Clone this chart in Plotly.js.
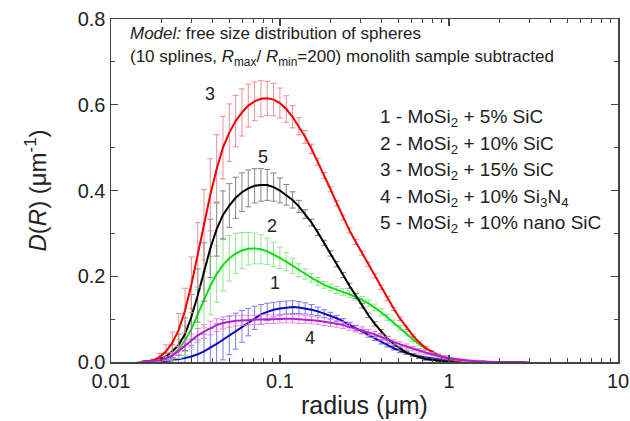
<!DOCTYPE html>
<html>
<head>
<meta charset="utf-8">
<script src="https://cdn.plot.ly/plotly-3.0.1.min.js"></script>
<style>html,body{margin:0;padding:0;background:#fff;}#chart{width:630px;height:421px;}</style>
</head>
<body>
<div id="chart"></div>
<script>
// radius grid (um)
const radius = [0.0150,0.01635,0.01782,0.01943,0.02117,0.02308,0.02516,0.02742,0.02989,0.03258,
  0.03551,0.03870,0.04219,0.04598,0.05012,0.05463,0.05955,0.06491,0.07075,0.07712,
  0.08406,0.09163,0.09987,0.1089,0.1187,0.1293,0.1410,0.1537,0.1675,0.1826,
  0.1990,0.2169,0.2364,0.2577,0.2809,0.3062,0.3337,0.3638,0.3965,0.4322,
  0.4711,0.5135,0.5597,0.6101,0.6650,0.7248,0.7901,0.8612,0.9387,1.023,
  1.115,1.216,1.325,1.444,1.574,1.716,1.870,2.038,2.222,2.422,2.640,2.877];

// 1 - MoSi2 + 5% SiC
const d1 = [0,0,0,0.001,0.002,0.004,0.006,0.009,0.013,0.018,
  0.025,0.033,0.042,0.052,0.062,0.072,0.083,0.093,0.103,0.111,
  0.117,0.122,0.125,0.127,0.128,0.127,0.125,0.122,0.118,0.113,
  0.108,0.102,0.095,0.087,0.079,0.071,0.063,0.055,0.047,0.039,
  0.032,0.026,0.021,0.017,0.013,0.010,0.008,0.006,0.004,0.003,
  0.002,0.001,0,0,0,0,0,0,0,0,0,0];
const e1 = [0,0,0,0.001,0.002,0.005,0.010,0.018,0.026,0.034,
  0.040,0.045,0.047,0.047,0.045,0.042,0.037,0.032,0.027,0.023,
  0.020,0.017,0.016,0.015,0.015,0.014,0.013,0.012,0.010,0.009,
  0.008,0.007,0.006,0.006,0.006,0.005,0.005,0.005,0.005,0.004,
  0.004,0.004,0.003,0.003,0.003,0.002,0.002,0.002,0.002,0.001,
  0.001,0.001,0,0,0,0,0,0,0,0,0,0];

// 2 - MoSi2 + 10% SiC
const d2 = [0,0.001,0.002,0.004,0.008,0.016,0.030,0.050,0.077,0.110,
  0.145,0.178,0.205,0.226,0.242,0.253,0.260,0.264,0.265,0.263,
  0.258,0.251,0.243,0.234,0.224,0.214,0.205,0.196,0.188,0.180,
  0.174,0.168,0.163,0.158,0.152,0.145,0.137,0.127,0.116,0.104,
  0.092,0.079,0.066,0.053,0.042,0.032,0.024,0.017,0.012,0.008,
  0.005,0.003,0.002,0.001,0,0,0,0,0,0,0,0];
const e2 = [0,0,0.001,0.002,0.005,0.012,0.022,0.035,0.048,0.058,
  0.065,0.068,0.066,0.060,0.053,0.047,0.042,0.038,0.036,0.034,
  0.031,0.028,0.025,0.021,0.018,0.015,0.012,0.010,0.009,0.008,
  0.008,0.008,0.008,0.008,0.008,0.008,0.008,0.008,0.008,0.007,
  0.006,0.006,0.005,0.005,0.004,0.004,0.003,0.003,0.002,0.002,
  0.001,0.001,0,0,0,0,0,0,0,0,0,0];

// 3 - MoSi2 + 15% SiC
const d3 = [0,0.001,0.004,0.012,0.025,0.045,0.075,0.120,0.180,0.250,
  0.320,0.390,0.450,0.500,0.535,0.562,0.582,0.598,0.608,0.614,
  0.615,0.612,0.604,0.590,0.572,0.550,0.525,0.497,0.467,0.435,
  0.403,0.370,0.337,0.307,0.280,0.254,0.228,0.201,0.174,0.148,
  0.124,0.101,0.080,0.062,0.046,0.033,0.024,0.016,0.010,0.007,
  0.004,0.003,0.002,0.001,0,0,0,0,0,0,0,0];
const e3 = [0,0.001,0.003,0.008,0.015,0.025,0.038,0.052,0.065,0.075,
  0.082,0.084,0.080,0.073,0.067,0.060,0.055,0.050,0.045,0.042,
  0.040,0.038,0.035,0.031,0.026,0.020,0.015,0.011,0.008,0.007,
  0.006,0.006,0.006,0.006,0.006,0.005,0.005,0.005,0.005,0.005,
  0.004,0.004,0.004,0.003,0.003,0.003,0.002,0.002,0.002,0.001,
  0.001,0.001,0.001,0,0,0,0,0,0,0,0,0];

// 4 - MoSi2 + 10% Si3N4
const d4 = [0,0.001,0.002,0.004,0.008,0.015,0.026,0.038,0.050,0.062,
  0.071,0.079,0.086,0.091,0.094,0.096,0.097,0.098,0.098,0.099,
  0.100,0.100,0.101,0.101,0.101,0.100,0.099,0.098,0.096,0.094,
  0.092,0.089,0.086,0.082,0.078,0.074,0.069,0.064,0.058,0.052,
  0.046,0.041,0.036,0.031,0.026,0.022,0.018,0.014,0.011,0.008,
  0.006,0.004,0.003,0.002,0.001,0,0,0,0,0,0,0];
const e4 = [0,0,0.001,0.002,0.004,0.007,0.010,0.013,0.015,0.016,
  0.016,0.016,0.015,0.014,0.013,0.012,0.012,0.011,0.011,0.011,
  0.010,0.010,0.010,0.010,0.010,0.010,0.009,0.009,0.009,0.009,
  0.009,0.008,0.008,0.008,0.008,0.008,0.007,0.007,0.007,0.007,
  0.006,0.006,0.006,0.005,0.005,0.005,0.004,0.004,0.004,0.003,
  0.003,0.003,0.002,0.002,0.002,0.001,0,0,0,0,0,0];

// 5 - MoSi2 + 10% nano SiC
const d5 = [0,0.001,0.003,0.007,0.013,0.025,0.040,0.065,0.105,0.155,
  0.210,0.265,0.310,0.343,0.365,0.383,0.396,0.405,0.411,0.413,
  0.413,0.408,0.400,0.390,0.378,0.363,0.345,0.325,0.302,0.278,
  0.253,0.228,0.203,0.178,0.154,0.131,0.109,0.089,0.071,0.055,
  0.042,0.031,0.022,0.016,0.011,0.007,0.005,0.003,0.002,0.001,
  0,0,0,0,0,0,0,0,0,0,0,0];
const e5 = [0,0.001,0.002,0.004,0.008,0.015,0.025,0.038,0.052,0.062,
  0.068,0.068,0.063,0.056,0.051,0.048,0.045,0.043,0.040,0.038,
  0.036,0.033,0.029,0.024,0.019,0.014,0.010,0.008,0.007,0.006,
  0.006,0.006,0.006,0.006,0.006,0.005,0.005,0.005,0.005,0.005,
  0.004,0.004,0.004,0.003,0.003,0.003,0.002,0.002,0.002,0.001,
  0.001,0,0,0,0,0,0,0,0,0,0,0];

const xTickVals = [0.01, 0.1, 1, 10];
const xTickText = ['0.01', '0.1', '1', '10'];
const xMinorVals = [0.02,0.03,0.04,0.05,0.06,0.07,0.08,0.09,0.2,0.3,0.4,0.5,0.6,0.7,0.8,0.9,2,3,4,5,6,7,8,9];
const yTickVals = [0, 0.2, 0.4, 0.6, 0.8];
const yTickText = ['0.0', '0.2', '0.4', '0.6', '0.8'];
const yMinorVals = [0.1, 0.3, 0.5, 0.7];

const legendLines = [
  '1 - MoSi<sub>2</sub> + 5% SiC',
  '2 - MoSi<sub>2</sub> + 10% SiC',
  '3 - MoSi<sub>2</sub> + 15% SiC',
  '4 - MoSi<sub>2</sub> + 10% Si<sub>3</sub>N<sub>4</sub>',
  '5 - MoSi<sub>2</sub> + 10% nano SiC'
];
const curveLabels = ['3', '5', '2', '1', '4'];

function tr(y, e, line, barColor) {
  return {
    x: radius, y: y, type: 'scatter', mode: 'lines',
    line: {color: line, width: 2},
    error_y: {type: 'data', array: e, visible: true, color: barColor, thickness: 1, width: 3},
    hoverinfo: 'skip', showlegend: false
  };
}

const data = [
  tr(d1, e1, '#0808c0', 'rgba(110,110,235,0.9)'),
  tr(d2, e2, '#10dd10', 'rgba(140,230,140,0.95)'),
  tr(d5, e5, '#000000', 'rgba(120,120,120,0.9)'),
  tr(d3, e3, '#f00000', 'rgba(235,130,140,0.9)'),
  tr(d4, e4, '#b020d0', 'rgba(235,120,220,0.9)')
];

const FONT = 'Liberation Sans, Arial, Helvetica, sans-serif';
const axisCol = '#444';

const ann = [];
ann.push({xref:'paper', yref:'paper', x:0.034, y:0.959, xanchor:'left', yanchor:'middle', showarrow:false,
  text:'<i>Model:</i> free size distribution of spheres', font:{family:FONT, size:17, color:'#222'}});
ann.push({xref:'paper', yref:'paper', x:0.034, y:0.885, xanchor:'left', yanchor:'middle', showarrow:false,
  text:'(10 splines, <i>R</i><sub>max</sub>/ <i>R</i><sub>min</sub>=200) monolith sample subtracted', font:{family:FONT, size:17, color:'#222'}});
const legY = [0.711, 0.634, 0.556, 0.478, 0.402];
legendLines.forEach((t, i) => ann.push({xref:'paper', yref:'paper', x:0.527, y:legY[i], xanchor:'left', yanchor:'middle',
  showarrow:false, text:t, font:{family:FONT, size:19, color:'#222'}}));
const labPos = [[0.195,0.781],[0.300,0.598],[0.318,0.397],[0.323,0.230],[0.392,0.070]];
curveLabels.forEach((t, i) => ann.push({xref:'paper', yref:'paper', x:labPos[i][0], y:labPos[i][1], xanchor:'center', yanchor:'middle',
  showarrow:false, text:t, font:{family:FONT, size:18, color:'#222'}}));

const layout = {
  width: 630, height: 421,
  margin: {l: 111, r: 12, t: 19, b: 59},
  paper_bgcolor: '#fff', plot_bgcolor: '#fff',
  font: {family: FONT, color: '#222'},
  xaxis: {
    type: 'log', range: [-2, 1],
    tickvals: xTickVals, ticktext: xTickText,
    ticks: 'inside', ticklen: 7, tickwidth: 1.2, tickcolor: axisCol,
    showline: true, linecolor: axisCol, linewidth: 1.5, mirror: 'allticks',
    showgrid: false, zeroline: false,
    minor: {tickvals: xMinorVals, ticks: 'inside', ticklen: 4, tickwidth: 1, tickcolor: axisCol, showgrid: false},
    tickfont: {family: FONT, size: 20, color: '#222'},
    title: {text: 'radius (μm)', font: {family: FONT, size: 25, color: '#222'}, standoff: 6}
  },
  yaxis: {
    range: [0, 0.8],
    tickvals: yTickVals, ticktext: yTickText,
    ticks: 'inside', ticklen: 7, tickwidth: 1.2, tickcolor: axisCol,
    showline: true, linecolor: axisCol, linewidth: 1.5, mirror: 'allticks',
    showgrid: false, zeroline: false,
    minor: {tickvals: yMinorVals, ticks: 'inside', ticklen: 4, tickwidth: 1, tickcolor: axisCol, showgrid: false},
    tickfont: {family: FONT, size: 20, color: '#222'},
    title: {text: '<i>D</i>(<i>R</i>) (μm<sup>-1</sup>)', font: {family: FONT, size: 24, color: '#222'}, standoff: 24}
  },
  annotations: ann
};

Plotly.newPlot('chart', data, layout, {displayModeBar: false, staticPlot: true});
</script>
</body>
</html>
